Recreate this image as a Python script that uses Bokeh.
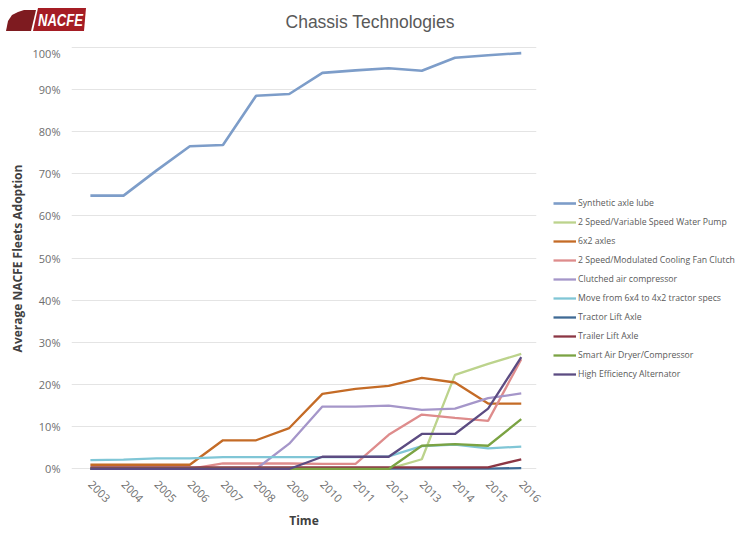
import math
from bokeh.plotting import figure
from bokeh.layouts import column
from bokeh.models import Range1d, FixedTicker, Legend, LegendItem, Div
from bokeh.embed import file_html
from bokeh.resources import INLINE

# ---- data ----
years = [2003, 2004, 2005, 2006, 2007, 2008, 2009, 2010, 2011, 2012, 2013, 2014, 2015, 2016]
year_labels = [str(y) for y in years]

series_names = [
    "Synthetic axle lube",
    "2 Speed/Variable Speed Water Pump",
    "6x2 axles",
    "2 Speed/Modulated Cooling Fan Clutch",
    "Clutched air compressor",
    "Move from 6x4 to 4x2 tractor specs",
    "Tractor Lift Axle",
    "Trailer Lift Axle",
    "Smart Air Dryer/Compressor",
    "High Efficiency Alternator",
]
synthetic_axle_lube = [64.8, 64.8, 70.8, 76.5, 76.8, 88.5, 88.9, 93.9, 94.5, 95.0, 94.4, 97.5, 98.1, 98.6]
water_pump = [0, 0, 0, 0, 0, 0, 0, 0, 0, 0, 2.3, 22.3, 24.9, 27.3]
axles_6x2 = [1.0, 1.0, 1.0, 1.0, 6.8, 6.8, 9.7, 17.8, 19.0, 19.7, 21.6, 20.5, 15.5, 15.5]
cooling_fan_clutch = [0, 0, 0, 0, 1.3, 1.3, 1.3, 1.2, 1.2, 8.1, 12.9, 12.1, 11.4, 26.0]
clutched_air_compressor = [0, 0, 0, 0, 0, 0, 6.0, 14.8, 14.8, 15.0, 14.0, 14.3, 16.8, 17.9]
move_6x4_4x2 = [2.1, 2.2, 2.5, 2.5, 2.8, 2.8, 2.8, 2.8, 2.8, 3.0, 5.4, 5.8, 4.9, 5.3]
tractor_lift_axle = [0.1, 0.1, 0.1, 0.1, 0.1, 0.1, 0.1, 0.1, 0.1, 0.1, 0.1, 0.1, 0.1, 0.2]
trailer_lift_axle = [0.4, 0.4, 0.4, 0.4, 0.4, 0.4, 0.4, 0.4, 0.4, 0.4, 0.4, 0.4, 0.4, 2.3]
smart_air_dryer = [0, 0, 0, 0, 0, 0, 0, 0, 0, 0, 5.5, 5.9, 5.5, 11.8]
high_eff_alternator = [0, 0, 0, 0, 0, 0, 0, 2.9, 2.9, 2.9, 8.3, 8.3, 14.3, 26.5]

series_values = [synthetic_axle_lube, water_pump, axles_6x2, cooling_fan_clutch,
                 clutched_air_compressor, move_6x4_4x2, tractor_lift_axle,
                 trailer_lift_axle, smart_air_dryer, high_eff_alternator]
series_colors = ["#7d9dc9", "#bcd38c", "#c46b26", "#de8c8c", "#a596c9",
                 "#80c6d6", "#3f6a95", "#8c3644", "#7ba343", "#5c4c82"]

y_ticks = list(range(0, 101, 10))
y_tick_labels = [f"{v}%" for v in y_ticks]

chart_title = "Chassis Technologies"
logo_text = "NACFE"

FONT = "Open Sans"
TXT = "#595959"
TICK = "#6e6e6e"
W = 734
HEADER_H = 45

# ---- header (logo + title) as inline SVG in a Div ----
header_html = f"""
<svg xmlns="http://www.w3.org/2000/svg" width="{W}" height="{HEADER_H}" style="display:block">
  <polygon points="6,31 8,21 12,15 18,12 24,10 36,10 31,31" fill="#7e1b20"/>
  <polygon points="33,31 38,8 86,8 84,31" fill="#a51d24"/>
  <text x="60.5" y="20" fill="white" font-family="Liberation Sans" font-size="16px"
        font-weight="bold" font-style="italic" text-anchor="middle"
        dominant-baseline="central" textLength="45"
        lengthAdjust="spacingAndGlyphs">{logo_text}</text>
  <text x="370" y="22" fill="{TXT}" font-family="Open Sans" font-size="17.5px"
        text-anchor="middle" dominant-baseline="central">{chart_title}</text>
</svg>
"""
hdr = Div(text=header_html, width=W, height=HEADER_H, margin=0)

# ---- main chart ----
p = figure(frame_width=465, frame_height=426, output_backend="svg", toolbar_location=None,
           x_range=Range1d(2002.43, 2016.46), y_range=Range1d(-0.6, 100.4))
p.min_border_left = 71
p.min_border_right = 198
p.min_border_top = 0
p.min_border_bottom = 56
p.outline_line_color = None

p.xgrid.grid_line_color = None
p.ygrid.grid_line_color = "#e4e4e4"
p.ygrid.ticker = FixedTicker(ticks=y_ticks)

p.yaxis.ticker = FixedTicker(ticks=y_ticks)
p.yaxis.major_label_overrides = {t: l for t, l in zip(y_ticks, y_tick_labels)}
p.yaxis.axis_line_color = None
p.yaxis.major_tick_line_color = None
p.yaxis.major_tick_out = 0
p.yaxis.minor_tick_line_color = None
p.yaxis.major_label_text_font = FONT
p.yaxis.major_label_text_font_size = "11px"
p.yaxis.major_label_text_color = TICK
p.yaxis.major_label_standoff = 11
p.yaxis.axis_label = "Average NACFE Fleets Adoption"
p.yaxis.axis_label_text_font = FONT
p.yaxis.axis_label_text_font_size = "12px"
p.yaxis.axis_label_text_font_style = "bold"
p.yaxis.axis_label_text_color = "#404040"
p.yaxis.axis_label_standoff = 4

p.xaxis.ticker = FixedTicker(ticks=years)
p.xaxis.major_label_overrides = {y: l for y, l in zip(years, year_labels)}
p.xaxis.major_label_orientation = -math.pi / 4
p.xaxis.axis_line_color = None
p.xaxis.major_tick_line_color = None
p.xaxis.major_tick_out = 0
p.xaxis.minor_tick_line_color = None
p.xaxis.major_label_text_font = FONT
p.xaxis.major_label_text_font_size = "11px"
p.xaxis.major_label_text_color = TICK
p.xaxis.major_label_standoff = 11
p.xaxis.axis_label = "Time"
p.xaxis.axis_label_text_font = FONT
p.xaxis.axis_label_text_font_size = "12px"
p.xaxis.axis_label_text_font_style = "bold"
p.xaxis.axis_label_text_color = "#404040"
p.xaxis.axis_label_standoff = 3

items = []
for name, vals, col in zip(series_names, series_values, series_colors):
    w = 2.6 if name == "Synthetic axle lube" else 2.3
    r = p.line(years, vals, line_color=col, line_width=w)
    items.append(LegendItem(label=name, renderers=[r]))

legend = Legend(items=items, location=(17, 91))
legend.border_line_color = None
legend.background_fill_alpha = 0
legend.label_text_font = FONT
legend.label_text_font_size = "8.7px"
legend.label_text_color = TXT
legend.glyph_width = 23
legend.glyph_height = 12
legend.label_height = 12
legend.label_standoff = 2
legend.spacing = 7
legend.padding = 0
legend.margin = 0
p.add_layout(legend, "right")

layout = column(hdr, p, spacing=0)
open("out.html", "w").write(file_html(layout, INLINE))
